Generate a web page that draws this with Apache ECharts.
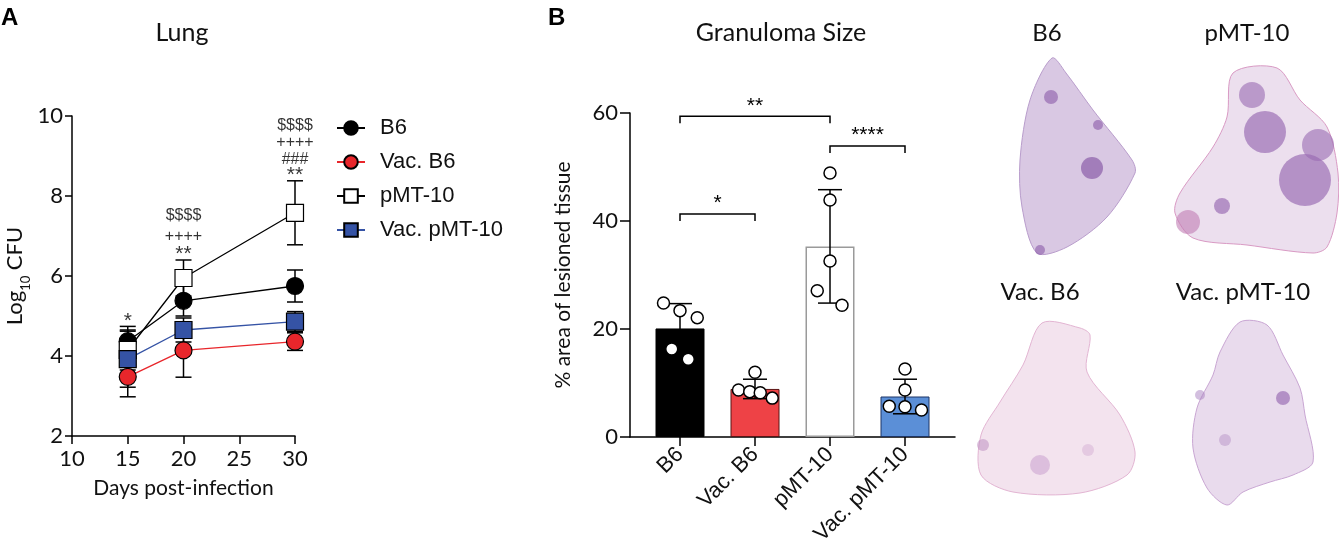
<!DOCTYPE html>
<html>
<head>
<meta charset="utf-8">
<script src="https://cdn.jsdelivr.net/npm/echarts@6/dist/echarts.min.js"></script>
<style>
  html, body { margin: 0; padding: 0; background: #fff; }
  #chart { width: 1339px; height: 551px; }
</style>
</head>
<body>
<div id="chart"></div>
<script>
// panel A - lung CFU over time
const days = [15, 20, 30];
const b6Mean = [4.37, 5.38, 5.75];
const b6Sd = [0.37, 0.38, 0.4];
const vacB6Mean = [3.48, 4.14, 4.36];
const vacB6Sd = [0.5, 0.67, 0.22];
const pmtMean = [4.15, 5.95, 7.58];
const pmtSd = [0.5, 0.45, 0.8];
const vacPmtMean = [3.92, 4.65, 4.86];
const vacPmtSd = [0.7, 0.3, 0.25];
const sigLabels = [
  ['*'],
  ['$$$$', '++++', '**'],
  ['$$$$', '++++', '###', '**']
];

// panel B - granuloma size
const groups = ['B6', 'Vac. B6', 'pMT-10', 'Vac. pMT-10'];
const meanPct = [20.1, 8.9, 35.3, 7.5];
const sdPct = [4.6, 1.8, 10.5, 3.2];
const b6Dots = [24.8, 23.4, 22.1, 16.3, 14.4];
const vacB6Dots = [8.7, 8.4, 12.0, 8.2, 7.2];
const pmtDots = [48.9, 43.9, 32.6, 27.1, 24.4];
const vacPmtDots = [12.6, 8.7, 5.7, 5.6, 5.0];
const jitter = [
  [-0.22, 0, 0.23, -0.11, 0.11],
  [-0.22, -0.07, 0, 0.07, 0.23],
  [0, 0, 0, -0.17, 0.16],
  [0, 0, -0.21, 0, 0.22]
];
// brackets: from group, to group, height, stars
const brackets = [
  [0, 2, 59.4, '**'],
  [0, 1, 41.3, '*'],
  [2, 3, 53.9, '****']
];

const chart = echarts.init(document.getElementById('chart'));
const FONT = 'Lato';
const ARIAL = 'Liberation Sans';

function errBar(capW) {
  return function (params, api) {
    const x = api.value(0), lo = api.value(1), hi = api.value(2);
    const top = api.coord([x, hi]);
    const bot = api.coord([x, lo]);
    const st = { stroke: '#000', lineWidth: 1.5 };
    return {
      type: 'group',
      children: [
        { type: 'line', shape: { x1: top[0], y1: top[1], x2: bot[0], y2: bot[1] }, style: st },
        { type: 'line', shape: { x1: top[0] - capW / 2, y1: top[1], x2: top[0] + capW / 2, y2: top[1] }, style: st },
        { type: 'line', shape: { x1: bot[0] - capW / 2, y1: bot[1], x2: bot[0] + capW / 2, y2: bot[1] }, style: st }
      ]
    };
  };
}

function errData(mean, sd, xs) {
  return mean.map((m, i) => [xs[i], m - sd[i], m + sd[i]]);
}

// stacked significance text, stars drawn a bit bigger
function sigText(lines, gap) {
  return lines.map(t => t.indexOf('*') >= 0 ? '{s|' + t + '}' : '{' + gap + '|' + t + '}').join('\n');
}
const sigRich = {
  s: { fontFamily: ARIAL, fontSize: 21, lineHeight: 15, color: '#000' },
  o: { fontFamily: ARIAL, fontSize: 16, lineHeight: 17, color: '#000' },
  w: { fontFamily: ARIAL, fontSize: 16, lineHeight: 21, color: '#000' }
};
const sigGap = ['o', 'w', 'o'];

const groupsA = [
  { name: 'B6', mean: b6Mean, sd: b6Sd, symbol: 'circle', fill: '#000', line: '#000' },
  { name: 'Vac. B6', mean: vacB6Mean, sd: vacB6Sd, symbol: 'circle', fill: '#e8262b', line: '#e8262b' },
  { name: 'pMT-10', mean: pmtMean, sd: pmtSd, symbol: 'rect', fill: '#fff', line: '#000' },
  { name: 'Vac. pMT-10', mean: vacPmtMean, sd: vacPmtSd, symbol: 'rect', fill: '#3553a5', line: '#3553a5' }
];

const series = [];

// error bars for A (behind markers)
groupsA.forEach(g => {
  series.push({
    type: 'custom', xAxisIndex: 0, yAxisIndex: 0, z: 2,
    renderItem: errBar(16), data: errData(g.mean, g.sd, days), silent: true
  });
});
groupsA.forEach(g => {
  series.push({
    name: g.name, type: 'line', xAxisIndex: 0, yAxisIndex: 0, z: 3,
    data: days.map((d, i) => [d, g.mean[i]]),
    symbol: g.symbol, symbolSize: 17,
    lineStyle: { color: g.line, width: 1.3 },
    itemStyle: { color: g.fill, borderColor: '#000', borderWidth: 1.2 }
  });
});
// significance marks above the highest error bar of each day
const tops = days.map((d, i) => Math.max(...groupsA.map(g => g.mean[i] + g.sd[i])));
series.push({
  type: 'scatter', xAxisIndex: 0, yAxisIndex: 0, symbolSize: 0, silent: true,
  data: days.map((d, i) => ({ value: [d, tops[i]], label: { formatter: sigText(sigLabels[i], sigGap[i]) } })),
  label: { show: true, position: 'top', distance: -2, align: 'center', rich: sigRich }
});

// panel B bars
const barColors = ['#000000', '#ee4246', '#ffffff', '#5b8fd7'];
const barBorders = ['#000000', '#5a1414', '#9a9a9a', '#1d3566'];
series.push({
  type: 'bar', xAxisIndex: 1, yAxisIndex: 1, barWidth: 49, z: 2,
  data: meanPct.map((v, i) => ({
    value: [i, v],
    itemStyle: { color: barColors[i], borderColor: barBorders[i], borderWidth: i === 2 ? 1.5 : 1 }
  }))
});
series.push({
  type: 'custom', xAxisIndex: 1, yAxisIndex: 1, z: 3, silent: true,
  renderItem: errBar(24), data: errData(meanPct, sdPct, [0, 1, 2, 3])
});
[b6Dots, vacB6Dots, pmtDots, vacPmtDots].forEach((dots, gi) => {
  series.push({
    type: 'scatter', xAxisIndex: 1, yAxisIndex: 1, z: 4, symbolSize: 12,
    data: dots.map((v, k) => [gi + jitter[gi][k], v]),
    itemStyle: { color: '#fff', borderColor: '#000', borderWidth: 1.5, opacity: 1 }
  });
});
// comparison brackets
series.push({
  type: 'custom', xAxisIndex: 1, yAxisIndex: 1, z: 5, silent: true,
  data: brackets.map(b => [b[0], b[1], b[2]]),
  renderItem: function (params, api) {
    const a = api.coord([api.value(0), api.value(2)]);
    const b = api.coord([api.value(1), api.value(2)]);
    const drop = 7;
    const stars = brackets[params.dataIndex][3];
    return {
      type: 'group',
      children: [
        {
          type: 'polyline',
          shape: { points: [[a[0], a[1] + drop], a, b, [b[0], b[1] + drop]] },
          style: { stroke: '#000', lineWidth: 1.5, fill: null }
        },
        {
          type: 'text', x: (a[0] + b[0]) / 2, y: a[1] - 3,
          style: { text: stars, fontFamily: ARIAL, fontSize: 21, fill: '#000', align: 'center', verticalAlign: 'bottom', lineHeight: 15 }
        }
      ]
    };
  }
});

// lung section sketches (backdrop standing in for the photos)
function lung(points, fill, stroke) {
  return { type: 'polygon', shape: { points: points, smooth: 0.3 }, style: { fill: fill, stroke: stroke, lineWidth: 1 }, silent: true };
}
function blob(cx, cy, r, fill, op) {
  return { type: 'circle', shape: { cx: cx, cy: cy, r: r }, style: { fill: fill, opacity: op || 0.6 }, silent: true };
}

const textBase = { fontFamily: FONT, fill: '#111', textAlign: 'center', textVerticalAlign: 'middle' };

const option = {
  animation: false,
  backgroundColor: '#fff',
  grid: [
    { left: 72, top: 116, width: 223, height: 320 },
    { left: 630, top: 113, width: 325, height: 324 }
  ],
  xAxis: [
    {
      gridIndex: 0, type: 'value', min: 10, max: 30, interval: 5,
      name: 'Days post-infection', nameLocation: 'middle', nameGap: 42,
      nameTextStyle: { fontFamily: FONT, fontSize: 21, color: '#111' },
      axisLine: { onZero: false, lineStyle: { color: '#000', width: 1.5 } },
      axisTick: { length: 8, lineStyle: { color: '#000', width: 1.5 } },
      axisLabel: { fontFamily: FONT, fontSize: 22, color: '#111', margin: 12 },
      splitLine: { show: false }
    },
    {
      gridIndex: 1, type: 'value', min: -2 / 3, max: 11 / 3,
      axisLine: { onZero: false, lineStyle: { color: '#000', width: 1.5 } },
      axisTick: { length: 9, customValues: [0, 1, 2, 3], lineStyle: { color: '#000', width: 1.5 } },
      axisLabel: {
        customValues: [0, 1, 2, 3], rotate: 45, margin: 14,
        formatter: v => groups[Math.round(v)],
        fontFamily: ARIAL, fontSize: 22, color: '#111'
      },
      splitLine: { show: false }
    }
  ],
  yAxis: [
    {
      gridIndex: 0, type: 'value', min: 2, max: 10, interval: 2,
      name: '{a|Log}{s|10}{a| CFU}', nameLocation: 'middle', nameGap: 44,
      nameTextStyle: {
        rich: {
          a: { fontFamily: FONT, fontSize: 22, color: '#111', lineHeight: 26 },
          s: { fontFamily: FONT, fontSize: 13, color: '#111', verticalAlign: 'bottom', lineHeight: 26, padding: [0, 0, -4, 0] }
        }
      },
      axisLine: { show: true, onZero: false, lineStyle: { color: '#000', width: 1.5 } },
      axisTick: { show: true, length: 7, lineStyle: { color: '#000', width: 1.5 } },
      axisLabel: { fontFamily: FONT, fontSize: 22, color: '#111', margin: 9 },
      splitLine: { show: false }
    },
    {
      gridIndex: 1, type: 'value', min: 0, max: 60, interval: 20,
      name: '% area of lesioned tissue', nameLocation: 'middle', nameGap: 56,
      nameTextStyle: { fontFamily: FONT, fontSize: 21, color: '#111' },
      axisLine: { show: true, onZero: false, lineStyle: { color: '#000', width: 1.5 } },
      axisTick: { show: true, length: 10, lineStyle: { color: '#000', width: 1.5 } },
      axisLabel: { fontFamily: FONT, fontSize: 22, color: '#111', margin: 12 },
      splitLine: { show: false }
    }
  ],
  legend: {
    data: groupsA.map(g => g.name),
    orient: 'vertical', left: 336, top: 117, padding: 0,
    itemWidth: 28, itemHeight: 17, itemGap: 12,
    textStyle: { fontFamily: ARIAL, fontSize: 22, color: '#111', padding: [0, 0, 0, 10] }
  },
  graphic: [
    { type: 'text', left: 1, top: 6, style: { text: 'A', fontFamily: ARIAL, fontWeight: 'bold', fontSize: 24, fill: '#000' } },
    { type: 'text', left: 548, top: 6, style: { text: 'B', fontFamily: ARIAL, fontWeight: 'bold', fontSize: 24, fill: '#000' } },
    { type: 'text', x: 182, y: 33, style: Object.assign({ text: 'Lung', fontSize: 25 }, textBase) },
    { type: 'text', x: 781, y: 33, style: Object.assign({ text: 'Granuloma Size', fontSize: 25 }, textBase) },
    { type: 'text', x: 1047, y: 33, style: Object.assign({ text: 'B6', fontSize: 24 }, textBase) },
    { type: 'text', x: 1247, y: 33, style: Object.assign({ text: 'pMT-10', fontSize: 24 }, textBase) },
    { type: 'text', x: 1040, y: 292, style: Object.assign({ text: 'Vac. B6', fontSize: 24 }, textBase) },
    { type: 'text', x: 1243, y: 292, style: Object.assign({ text: 'Vac. pMT-10', fontSize: 24 }, textBase) },
    lung([[1052, 58], [1066, 73], [1093, 110], [1132, 160], [1135, 173], [1107, 217], [1067, 247], [1037, 253], [1022, 207], [1020, 160], [1030, 100]], '#d9c8e3', '#b99dcc'),
    blob(1092, 168, 11, '#7d4b9e'), blob(1051, 97, 7, '#8a5aa8'), blob(1098, 125, 5, '#8a5aa8'), blob(1040, 250, 5, '#8a5aa8'),
    lung([[1233, 73], [1277, 68], [1300, 100], [1327, 127], [1338, 173], [1337, 213], [1327, 247], [1313, 253], [1247, 245], [1193, 238], [1175, 213], [1180, 193], [1213, 147], [1227, 117]], '#ecdfee', '#d99ac4'),
    blob(1305, 180, 26, '#8f5eab'), blob(1318, 145, 16, '#9a6ab3'), blob(1265, 132, 21, '#8f5eab'), blob(1252, 95, 13, '#9a6ab3'),
    blob(1188, 222, 12, '#c27db4'), blob(1222, 206, 8, '#8f5eab'),
    lung([[1042, 323], [1080, 328], [1090, 335], [1087, 372], [1120, 415], [1135, 452], [1127, 475], [1080, 493], [1013, 492], [981, 475], [981, 435], [1000, 402], [1023, 365]], '#f3e3ee', '#e3b5d3'),
    blob(1040, 465, 10, '#c59acb', 0.5), blob(983, 445, 6, '#b98abd', 0.5), blob(1088, 450, 6, '#d6afd4', 0.5),
    lung([[1240, 322], [1267, 325], [1283, 355], [1300, 388], [1305, 415], [1313, 462], [1293, 475], [1270, 482], [1243, 492], [1227, 505], [1207, 488], [1193, 448], [1197, 408], [1213, 375], [1220, 352]], '#e9dbed', '#c9a6d3'),
    blob(1283, 398, 7, '#8f5eab', 0.6), blob(1225, 440, 6, '#b793c7', 0.5), blob(1200, 395, 5, '#a77fbf', 0.5)
  ],
  series: series
};

chart.setOption(option);
</script>
</body>
</html>
